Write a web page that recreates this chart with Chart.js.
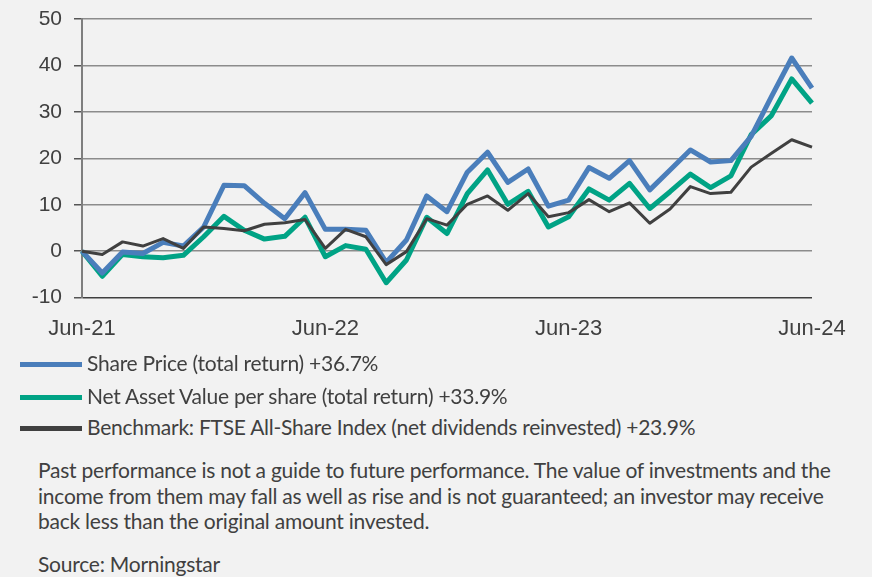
<!DOCTYPE html>
<html>
<head>
<meta charset="utf-8">
<script src="https://cdn.jsdelivr.net/npm/chart.js@4/dist/chart.umd.min.js"></script>
<style>
  body { margin: 0; background: #f2f2f2; }
  #wrap { position: relative; width: 872px; height: 577px; background: #f2f2f2; overflow: hidden; }
  #chart { position: absolute; left: 0; top: 0; }
  .txt { font-family: Lato, "Noto Sans", sans-serif; color: #404040; font-size: 21px; letter-spacing: -0.24px; white-space: nowrap; }
  .leg { position: absolute; left: 20px; line-height: 22px; }
  .leg i { display: inline-block; width: 62px; height: 5px; vertical-align: middle; margin-right: 5px; position: relative; top: -1px; }
  #note { position: absolute; left: 38px; top: 457px; line-height: 25.5px; }
  #source { position: absolute; left: 38px; top: 551px; line-height: 25px; }
</style>
</head>
<body>
<div id="wrap">
  <canvas id="chart" width="872" height="360"></canvas>
  <div id="legend"></div>
  <div id="note" class="txt">Past performance is not a guide to future performance. The value of investments and the<br>income from them may fall as well as rise and is not guaranteed; an investor may receive<br>back less than the original amount invested.</div>
  <div id="source" class="txt">Source: Morningstar</div>
</div>
<script>
const months = [
  'Jun-21', 'Jul-21', 'Aug-21', 'Sep-21', 'Oct-21', 'Nov-21', 'Dec-21', 'Jan-22', 'Feb-22', 'Mar-22', 'Apr-22', 'May-22',
  'Jun-22', 'Jul-22', 'Aug-22', 'Sep-22', 'Oct-22', 'Nov-22', 'Dec-22', 'Jan-23', 'Feb-23', 'Mar-23', 'Apr-23', 'May-23',
  'Jun-23', 'Jul-23', 'Aug-23', 'Sep-23', 'Oct-23', 'Nov-23', 'Dec-23', 'Jan-24', 'Feb-24', 'Mar-24', 'Apr-24', 'May-24',
  'Jun-24',
];
const shownTicks = ['Jun-21', 'Jun-22', 'Jun-23', 'Jun-24'];

const sharePrice = [
  0, -4.7, -0.2, -0.5, 1.9, 1.1, 5.2, 14.2, 14.1, 10.3, 7.0, 12.6,
  4.7, 4.7, 4.5, -2.4, 2.4, 11.9, 8.5, 17.0, 21.3, 14.8, 17.7, 9.7,
  11.0, 18.0, 15.7, 19.5, 13.2, 17.5, 21.8, 19.2, 19.5, 24.7, 33.3, 41.6,
  35.1,
];
const nav = [
  0, -5.4, -0.7, -1.2, -1.4, -0.9, 3.1, 7.5, 4.5, 2.6, 3.2, 7.3,
  -1.2, 1.2, 0.4, -6.8, -1.9, 7.3, 3.8, 12.4, 17.5, 10.1, 12.9, 5.2,
  7.4, 13.4, 11.0, 14.6, 9.2, 12.8, 16.6, 13.7, 16.2, 25.1, 29.2, 37.1,
  31.9,
];
const benchmark = [
  0, -0.7, 2.0, 1.1, 2.7, 0.6, 5.2, 4.9, 4.4, 5.8, 6.1, 6.8,
  0.6, 4.7, 3.1, -2.9, -0.1, 7.0, 5.6, 10.1, 11.9, 8.8, 12.4, 7.4,
  8.3, 11.1, 8.5, 10.4, 6.0, 9.1, 13.9, 12.4, 12.7, 18.1, 21.1, 24.0,
  22.4,
];

const series = [
  { label: 'Share Price (total return) +36.7%', data: sharePrice, color: '#4a7ebb', width: 5, order: 1 },
  { label: 'Net Asset Value per share (total return) +33.9%', data: nav, color: '#00a385', width: 5, order: 2 },
  { label: 'Benchmark: FTSE All-Share Index (net dividends reinvested) +23.9%', data: benchmark, color: '#404040', width: 3, order: 0 },
];

// html legend
const legendTops = [352, 385, 416];
const legend = document.getElementById('legend');
series.forEach((s, i) => {
  const row = document.createElement('div');
  row.className = 'leg txt';
  row.style.top = legendTops[i] + 'px';
  row.innerHTML = '<i style="background:' + s.color + '"></i>' + s.label;
  legend.appendChild(row);
});

const axisFont = "'Liberation Sans', Arial, sans-serif";

new Chart(document.getElementById('chart'), {
  type: 'line',
  data: {
    labels: months,
    datasets: series.map((s) => ({
      label: s.label,
      data: s.data,
      borderColor: s.color,
      borderWidth: s.width,
      pointRadius: 0,
      tension: 0,
      borderJoinStyle: 'round',
      order: s.order,
    })),
  },
  options: {
    responsive: false,
    animation: false,
    layout: {
      padding: { top: 19, right: 60, bottom: 0, left: 0 },
    },
    plugins: {
      legend: { display: false },
      tooltip: { enabled: false },
    },
    scales: {
      x: {
        grid: { display: false, drawTicks: false },
        border: { display: false },
        ticks: {
          autoSkip: false,
          maxRotation: 0,
          padding: 18,
          color: '#404040',
          font: { family: axisFont, size: 22 },
          callback: function (value) {
            const lab = this.getLabelForValue(value);
            return shownTicks.includes(lab) ? lab : '';
          },
        },
      },
      y: {
        min: -10,
        max: 50,
        afterFit: (scale) => {
          scale.width = 82;
          scale.paddingTop = 0;
          scale.paddingBottom = 0;
        },
        grid: {
          color: (ctx) => (ctx.tick && ctx.tick.value === -10 ? '#404040' : '#8c8c8c'),
          lineWidth: 1.5,
          borderDash: [2, 3],
          tickLength: 8,
          tickColor: '#555555',
          tickBorderDash: [],
          tickWidth: 1.5,
        },
        border: { display: true, color: '#7f7f7f', width: 2 },
        ticks: {
          stepSize: 10,
          padding: 12,
          color: '#404040',
          font: { family: axisFont, size: 21 },
        },
      },
    },
  },
});
</script>
</body>
</html>
